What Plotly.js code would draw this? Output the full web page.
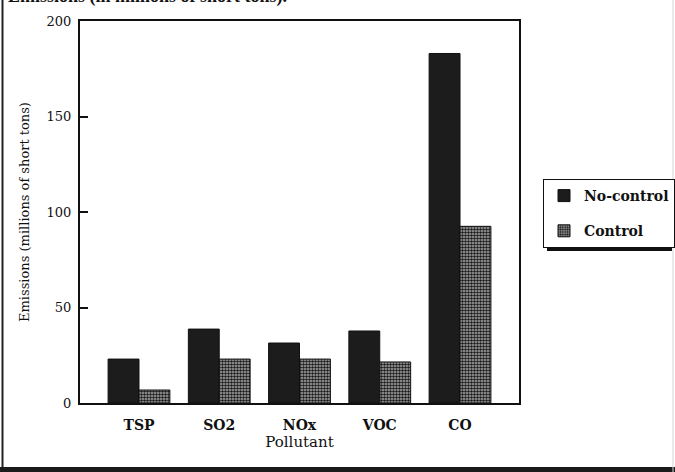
<!DOCTYPE html>
<html>
<head>
<meta charset="utf-8">
<script src="https://cdn.plot.ly/plotly-3.0.1.min.js"></script>
<style>
html,body{margin:0;padding:0;background:#fff;overflow:hidden;}
#chart{width:675px;height:472px;}
</style>
</head>
<body>
<div id="chart"></div>
<script>
// Data
var pollutants = ["TSP", "SO2", "NOx", "VOC", "CO"];
var noControl = [23, 38.7, 31.4, 37.7, 183];
var control = [6.8, 23, 23, 21.5, 92.5];
var seriesNames = ["No-control", "Control"];
var yTicks = [0, 50, 100, 150, 200];

var serif = "DejaVu Serif";

var traces = [
  {
    type: "bar",
    name: seriesNames[0],
    x: pollutants,
    y: noControl,
    legendgroup: "a",
    marker: {color: "#1c1c1c", line: {color: "#111", width: 1}}
  },
  {
    type: "bar",
    name: seriesNames[1],
    x: pollutants,
    y: control,
    legendgroup: "b",
    marker: {
      color: "#8a8a8a",
      line: {color: "#111", width: 1},
      pattern: {shape: ".", fgcolor: "#1a1a1a", bgcolor: "#acacac", size: 3, solidity: 0.55}
    }
  }
];

// paper coordinate helpers for fixed plot area (80..519 x 21..403)
function px(x) { return (x - 80) / 439; }
function py(y) { return (403 - y) / 382; }

var legLeft = 543, legTop = 179;

var layout = {
  width: 675,
  height: 472,
  margin: {l: 80, r: 156, t: 21, b: 69},
  paper_bgcolor: "#ffffff",
  plot_bgcolor: "#ffffff",
  barmode: "group",
  bargap: 0.23,
  bargroupgap: 0,
  showlegend: true,
  font: {family: serif, color: "#111", size: 13},
  xaxis: {
    range: [-0.735, 4.735],
    showline: true, mirror: true, linecolor: "#111", linewidth: 2,
    ticks: "", showgrid: false, zeroline: false,
    tickfont: {family: serif, size: 14, weight: "bold", color: "#111"},
    ticklabelstandoff: 8,
    title: {text: "Pollutant", font: {family: serif, size: 15, color: "#111"}, standoff: 4},
    automargin: false
  },
  yaxis: {
    range: [0, 200],
    tickvals: yTicks,
    showline: true, mirror: true, linecolor: "#111", linewidth: 2,
    ticks: "inside", ticklen: 8, tickwidth: 2, tickcolor: "#111",
    showgrid: false, zeroline: false,
    tickfont: {family: serif, size: 13, color: "#111"},
    ticklabelstandoff: 4,
    title: {text: "Emissions (millions of short tons)", font: {family: serif, size: 13, color: "#111"}, standoff: 14},
    automargin: false
  },
  legend: {
    xref: "container", yref: "container",
    x: legLeft / 675, y: 1 - legTop / 472, xanchor: "left", yanchor: "top",
    bgcolor: "#ffffff", bordercolor: "#111", borderwidth: 1,
    font: {family: serif, size: 14, weight: "bold", color: "#111"},
    traceorder: "grouped", tracegroupgap: 14,
    itemwidth: 30
  },
  shapes: [
    // legend drop shadow: right edge
    {type: "line", xref: "paper", yref: "paper", layer: "above",
     x0: px(670.5), x1: px(670.5), y0: py(251), y1: py(183),
     line: {color: "#111", width: 3}},
    // legend drop shadow: bottom edge
    {type: "line", xref: "paper", yref: "paper", layer: "above",
     x0: px(547), x1: px(672), y0: py(249.5), y1: py(249.5),
     line: {color: "#111", width: 3}},
    // outer frame: left line
    {type: "line", xref: "paper", yref: "paper",
     x0: px(2.5), x1: px(2.5), y0: py(472), y1: py(0),
     line: {color: "#222", width: 2}},
    // outer frame: bottom band
    {type: "line", xref: "paper", yref: "paper",
     x0: px(0), x1: px(675), y0: py(469.5), y1: py(469.5),
     line: {color: "#1a1a1a", width: 5}},
    // outer frame: faint right edge
    {type: "line", xref: "paper", yref: "paper",
     x0: px(673), x1: px(673), y0: py(472), y1: py(0),
     line: {color: "#d6d6d6", width: 1}}
  ],
  annotations: [
    {text: "Emissions (in millions of short tons).", xref: "paper", yref: "paper",
     x: px(6), y: py(9), xanchor: "left", yanchor: "bottom",
     showarrow: false, font: {family: "Liberation Serif", size: 18, weight: "bold", color: "#111"}}
  ]
};

Plotly.newPlot("chart", traces, layout, {displayModeBar: false, staticPlot: true});
</script>
</body>
</html>
